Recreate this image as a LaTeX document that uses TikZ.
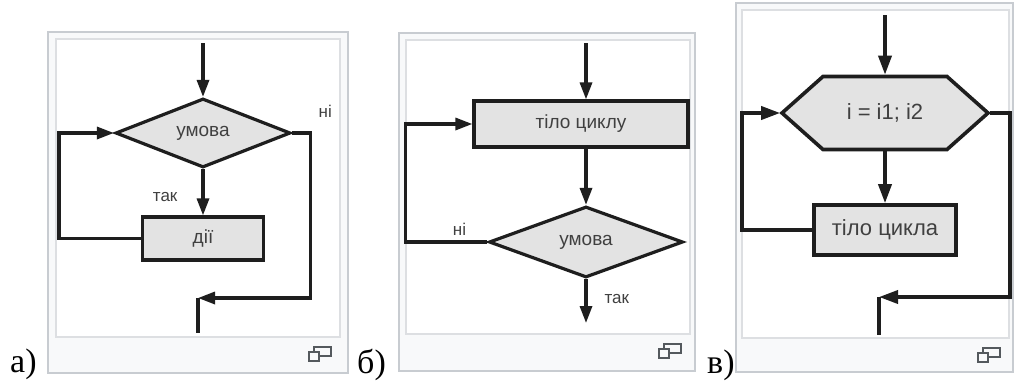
\documentclass[tikz,border=0pt]{standalone}
\usepackage{fontspec}
\setmainfont{Liberation Serif}
\setsansfont{Liberation Sans}
\usepackage{tikz}
\usetikzlibrary{arrows.meta, positioning, shapes.geometric}
\definecolor{flowline}{HTML}{1E1E1E}
\definecolor{flowfill}{HTML}{E3E3E3}
\definecolor{flowtext}{HTML}{404040}
\definecolor{barfill}{HTML}{F8F9FA}
\definecolor{barline}{HTML}{C8CCD1}
\definecolor{imgline}{HTML}{DDDFE2}
\definecolor{iconline}{HTML}{54595D}

\begin{document}
\begin{tikzpicture}[x=1pt, y=-1pt,
    flow/.style={line width=3.2pt, draw=flowline},
    arr/.style={flow, -{Triangle[length=17pt, width=12pt]}},
    box/.style={rectangle, flow, fill=flowfill, text=flowtext, inner sep=0pt,
                font=\sffamily\fontsize{19}{22}\selectfont},
    decision/.style={diamond, flow, fill=flowfill, text=flowtext, inner sep=0pt,
                     font=\sffamily\fontsize{19}{22}\selectfont},
    lbl/.style={text=flowtext, inner sep=0pt, font=\sffamily\fontsize{17}{20}\selectfont},
    caption/.style={inner sep=0pt, anchor=base west, font=\fontsize{34}{40}\selectfont},
    icon/.style={draw=iconline, line width=1.2pt},
]
    \useasboundingbox (0,0) rectangle (1014,381);

    % thumbnail frames
    \foreach \xl/\yt/\xr/\yb/\il/\it/\ir/\ib in {48/32/348/373/56/39/340/337,
        399/33/695/371/406/40/690/334, 736/3/1013/372/742/10/1009/338} {
        \draw[barline, fill=barfill, line width=1.2pt] (\xl,\yt) rectangle (\xr,\yb);
        \draw[imgline, fill=white, line width=1.4pt] (\il,\it) rectangle (\ir,\ib);
        \draw[icon] (\ir-26,\ib+10) rectangle (\ir-9,\ib+19);
        \draw[icon, fill=barfill] (\ir-31,\ib+15) rectangle (\ir-21,\ib+24);
    }

    % a) while loop
    \coordinate (a-in) at (203,43);
    \node[decision, minimum width=175pt, minimum height=69pt] (a-umova) at (203,133) {умова};
    \node[box, minimum width=121pt, minimum height=43pt] (a-dii) at (203,238.5) {дії};
    \coordinate (a-join) at (198,298);
    \coordinate (a-out) at (198,333);
    \draw[arr] (a-in) -- (a-umova.north);
    \draw[arr] (a-umova.south) -- node[lbl, pos=0.6, left=24pt] {так} (a-dii.north);
    \draw[arr] (a-dii.west) -- ++(-82,0) |- (a-umova.west);
    \draw[arr] (a-umova.east) -- ++(18,0) node[lbl, above right=14pt and 7pt] {ні} |- (a-join);
    \draw[flow] (a-join) -- (a-out);
    \node[caption] (a-lbl) at (10,372) {а)};

    % b) do-while loop
    \coordinate (b-in) at (586,43);
    \node[box, minimum width=214pt, minimum height=46pt] (b-tilo) at (581,124) {тіло циклу};
    \node[decision, minimum width=194pt, minimum height=71pt] (b-umova) at (586,242) {умова};
    \coordinate (b-out) at (586,323);
    \draw[arr] (b-in) -- (b-in |- b-tilo.north);
    \draw[arr] (b-in |- b-tilo.south) -- (b-umova.north);
    \draw[arr] (b-umova.west) -- node[lbl, pos=0.34, above=5pt] {ні} ++(-82,0) |- (b-tilo.west);
    \draw[arr] (b-umova.south) -- node[lbl, pos=0.45, right=17pt] {так} (b-out);
    \node[caption] (b-lbl) at (357,373) {б)};

    % c) counter loop
    \begin{scope}[flow/.append style={line width=3.6pt},
                  arr/.style={flow, -{Triangle[length=19pt, width=13pt]}},
                  box/.append style={font=\sffamily\fontsize{22}{26}\selectfont}]
        \coordinate (v-in) at (885,15);
        \coordinate (v-c) at (885,113);
        \draw[flow, fill=flowfill] (v-c) ++(-103,0) -- ++(41,-36.5) -- ++(124,0)
            -- ++(41,36.5) -- ++(-41,36.5) -- ++(-124,0) -- cycle;
        \node[text=flowtext, inner sep=0pt, outer sep=1.8pt, minimum width=206pt,
              minimum height=73pt, font=\sffamily\fontsize{22}{26}\selectfont]
            (v-cycle) at (v-c) {i = i1; i2};
        \node[box, minimum width=142pt, minimum height=50pt] (v-tilo) at (885,230) {тіло цикла};
        \coordinate (v-join) at (879,297);
        \coordinate (v-out) at (879,335);
        \draw[arr] (v-in) -- (v-cycle.north);
        \draw[arr] (v-cycle.south) -- (v-tilo.north);
        \draw[arr] (v-tilo.west) -- ++(-70,0) |- (v-cycle.west);
        \draw[arr] (v-cycle.east) -- ++(20,0) |- (v-join);
        \draw[flow] (v-join) -- (v-out);
    \end{scope}
    \node[caption] (v-lbl) at (707,373) {в)};
\end{tikzpicture}
\end{document}
